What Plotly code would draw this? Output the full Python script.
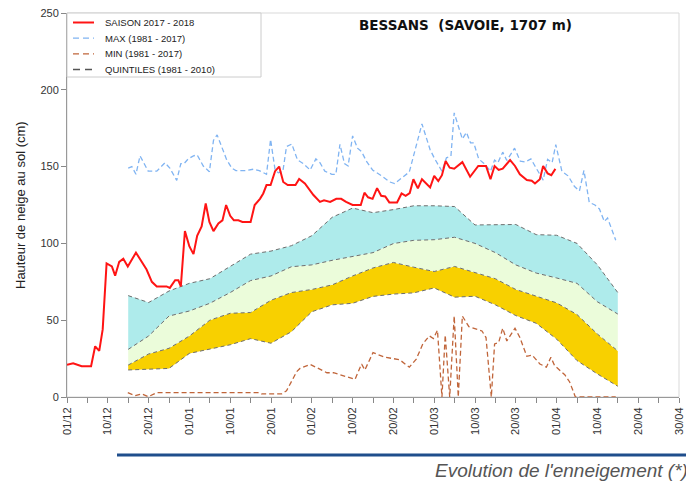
import plotly.graph_objects as go

# X axis: day index from 01/12 (0) to 30/04 (150)
tick_days = list(range(0, 151, 5))
tick_labels = ["01/12", "", "10/12", "", "20/12", "", "01/01", "", "10/01", "", "20/01", "",
               "01/02", "", "10/02", "", "20/02", "", "01/03", "", "10/03", "", "20/03", "",
               "01/04", "", "10/04", "", "20/04", "", "30/04"]

# Season 2017-2018
season_days = [0, 1.5, 3.6, 5.9, 6.9, 7.9, 8.75, 9.7, 11, 11.8, 12.8, 13.8, 14.9, 16.9, 19.5, 20.8,
               22, 24.4, 25.2, 26.5, 27.3, 27.9, 28.9, 30, 31, 31.9, 33, 34, 34.9, 35.9, 37.1, 38.1,
               39, 40, 40.9, 42, 43, 45, 46, 47.3, 48.1, 48.9, 49.9, 51, 52, 53, 54.1, 56, 56.9, 58.3,
               60.4, 62, 63, 64.5, 66, 67.2, 68.4, 70, 72, 72.9, 73.8, 74.9, 76, 77, 78, 79, 80.9,
               82, 83, 84, 84.9, 86, 87, 89, 90, 91, 91.9, 92.8, 93.8, 94.9, 96.9, 98.8, 100.8,
               102.7, 103.8, 104.8, 105.8, 106.8, 108.6, 109.8, 111, 112.7, 113.9, 114.7, 115.9,
               116.7, 117.8, 118.7, 119.7]
season_vals = [21, 22, 20, 20, 33, 30, 44, 87, 85, 79, 88, 90, 85, 94, 83, 75,
               72, 72, 71, 76, 76, 72, 108, 98, 93, 105, 111, 126, 114, 108, 113, 115,
               125, 118, 115, 115, 114, 114, 125, 129, 132.5, 138, 138, 147, 150, 140, 138, 138, 142, 139,
               131.5, 127, 128, 127, 129, 129, 127, 125, 125, 133, 130, 129, 136, 131, 130.6, 126.7, 126.7,
               132.5, 131, 132.8, 141.8, 135.8, 141.8, 136.4, 144, 140.6, 144.4, 153.6, 149.3, 148.6, 152.9, 143.4, 150.4,
               150.4, 141.8, 150.4, 147.8, 148.7, 154.3, 150.4, 145, 141.3, 140.8, 139, 141.8,
               150.4, 145.6, 144.4, 148.5]

# MAX 1981-2017
max_days = [15, 15.9, 16.9, 17.9, 18.7, 19.9, 22, 24, 25.2, 26.9, 27.9, 28.7, 29.7, 31, 31.9, 33.4,
            34.9, 35.9, 36.8, 37.9, 39.1, 40.4, 41.4, 43.9, 45.7, 47.1, 48.9, 49.9, 51, 51.8, 52.9,
            53.8, 55.1, 56.5, 57.9, 59.6, 61, 62, 63.2, 64.9, 65.9, 66.9, 68, 68.9, 70, 71.2, 72.2,
            73.5, 74.9, 77.1, 79.1, 80.3, 81.9, 83.9, 87, 89, 90, 91.9, 93, 94.1, 94.9, 96.9, 97.9,
            98.9, 99.7, 100.9, 102.2, 103.8, 104.8, 105.6, 106.8, 107.8, 109.7, 111.1, 112.3, 113.7,
            114.7, 115.9, 116.7, 117.8, 118.9, 119.8, 121.3, 122.8, 124.4, 125.6, 126.7, 128, 129.4,
            130.5, 131.7, 132.5, 134.5]
max_vals = [149, 150, 145, 157, 153, 147, 147, 152.5, 149, 141, 152, 152, 155, 157, 157.6, 150.4,
            146.7, 167, 170.6, 163, 154.7, 149, 147.4, 147.4, 148.3, 147.4, 145, 167.7, 147.8, 146, 146.7,
            163, 164.7, 154.3, 152, 147.8, 155, 152.5, 147, 145, 145, 164.5, 152, 150.4, 170, 162, 159.7,
            153, 147.8, 144, 140, 139, 142.3, 146.5, 177.8, 161, 155.7, 147, 155.7, 156.8, 185, 168, 172.3,
            165.4, 165.4, 155, 152, 147, 154.3, 152.5, 159.4, 154, 162, 153.6, 153, 155,
            150.4, 144.4, 141.2, 154.7, 152.5, 164.3, 147, 144, 137, 134.2, 147.5, 126.7, 125,
            122.4, 114.3, 116.5, 102]

# MIN 1981-2017
min_days = [14.9, 16.7, 18.3, 19.9, 22, 47.3, 47.7, 52.6, 53.8, 56.3, 57.1, 59.6, 61.6, 63.7, 65.3,
            67.3, 68.9, 70.6, 72.2, 73, 75, 77.9, 81.5, 83.9, 85.6, 87.2, 88.8, 89.8, 90.8, 91.9,
            92.7, 93.8, 94.9, 95.9, 96.9, 98.5, 101.7, 102.7, 104, 104.8, 105.8, 106.8, 107.8, 109.8,
            111, 112.7, 114, 115.9, 117.5, 118.6, 119.5, 122, 123.2, 124.6, 134.5]
min_vals = [2.8, 0.9, 2, 0.2, 2.8, 2.8, 2, 2, 4, 16.5, 18.6, 21.2, 18.6, 15.8, 15.8,
            14.3, 13.2, 11.5, 21.5, 17.6, 28.9, 25.9, 24.3, 19.4, 24.7, 34.5, 39.8, 38.1, 43.5, 0,
            40.3, 0, 52.7, 0, 52.7, 45.8, 43, 38.7, 0, 34.5, 35.5, 44.8, 36.5, 44.8,
            38.7, 26.5, 27.3, 21.5, 19.4, 25.9, 20.5, 14.5, 9.8, 0, 0]

# Quintiles 1981-2010
q_days = list(range(15, 136, 5))
q20 = [17.6, 18, 18.6, 28.4, 31, 34, 38, 35, 42.5, 55.5, 60, 61, 65.5, 67, 67.8, 71, 65, 65.6,
       60, 53, 48, 37.7, 23.7, 15, 7]
q40 = [20.8, 28, 31.7, 39.7, 50, 54.5, 55, 63, 68, 70, 73, 78.8, 84, 87.6, 84.5, 81.7, 85, 81,
       77, 70, 65.7, 61.3, 53.7, 41, 30]
q60 = [31, 39.7, 52.7, 56, 61, 68, 75.8, 78.8, 84.8, 86, 89, 91.4, 94, 99.9, 102, 102.4, 104, 100,
       94, 86, 80.7, 77.5, 74, 62, 54]
q80 = [66, 61.5, 69, 74, 77, 85, 93, 95, 98.5, 105, 117, 123, 120, 122, 124.5, 124.5, 124, 112,
       112, 112.3, 105.7, 105.3, 100, 86, 68]

legend_names = ["SAISON 2017 - 2018", "MAX (1981 - 2017)", "MIN (1981 - 2017)", "QUINTILES (1981 - 2010)"]

RED = "#FF1414"
BLUE = "#80B4F2"
BROWN = "#C0653A"
GREY = "#6e6e6e"

fig = go.Figure()
qline = dict(color=GREY, width=1, dash="4px,3px")
fig.add_trace(go.Scatter(x=q_days, y=q20, mode="lines", line=qline, hoverinfo="skip"))
fig.add_trace(go.Scatter(x=q_days, y=q40, mode="lines", line=qline, fill="tonexty",
                         fillcolor="#F8D000", hoverinfo="skip"))
fig.add_trace(go.Scatter(x=q_days, y=q60, mode="lines", line=qline, fill="tonexty",
                         fillcolor="#EBFCDA", hoverinfo="skip"))
fig.add_trace(go.Scatter(x=q_days, y=q80, mode="lines", line=qline, fill="tonexty",
                         fillcolor="#AEEBEB", hoverinfo="skip"))
fig.add_trace(go.Scatter(x=max_days, y=max_vals, mode="lines", name=legend_names[1],
                         line=dict(color=BLUE, width=1.3, dash="5px,3px")))
fig.add_trace(go.Scatter(x=min_days, y=min_vals, mode="lines", name=legend_names[2],
                         line=dict(color=BROWN, width=1.3, dash="5px,3px")))
fig.add_trace(go.Scatter(x=season_days, y=season_vals, mode="lines", name=legend_names[0],
                         line=dict(color=RED, width=2)))

# The page body has an 8px margin: figure is placed at (8, 8) in the window.
OFF = 8
PL, PT, PW, PH = 67, 13, 612.0, 384.0  # plot area in window px
W, H = 694 - OFF, 484 - OFF
fig.update_layout(
    width=W, height=H,
    margin=dict(l=PL - OFF, r=W - (PL - OFF) - int(PW), t=PT - OFF, b=H - (PT - OFF) - int(PH)),
    plot_bgcolor="white", paper_bgcolor="white",
    font=dict(family="Liberation Sans, Arial, sans-serif", size=11, color="#333333"),
    showlegend=False,
)

fig.update_xaxes(range=[0, 150], tickvals=tick_days, ticktext=tick_labels, tickangle=-90,
                 ticks="outside", ticklen=5, tickcolor="#888888", showline=True,
                 linecolor="#999999", showgrid=False, zeroline=False, automargin=False,
                 ticklabeloverflow="allow", tickfont=dict(size=11, color="#333333"))
fig.update_yaxes(range=[0, 250], tickvals=[0, 50, 100, 150, 200, 250], ticks="outside",
                 ticklen=5, tickcolor="#888888", showline=True, linecolor="#999999",
                 showgrid=False, zeroline=False, automargin=False,
                 ticklabeloverflow="allow", tickfont=dict(size=11, color="#333333"))

# plot frame (light grey top / right)
fig.add_shape(type="rect", xref="paper", yref="paper", x0=0, x1=1, y0=0, y1=1,
              line=dict(color="#d9d9d9", width=1), layer="below")

def px_x(px):
    return (px - PL) / PW

def px_y(py):
    return (PT + PH - py) / PH

# manual legend box
fig.add_shape(type="rect", xref="paper", yref="paper", x0=px_x(67), x1=px_x(261),
              y0=px_y(77), y1=px_y(13), line=dict(color="#cccccc", width=1),
              fillcolor="white", layer="above")
legend_styles = [dict(color=RED, width=2), dict(color=BLUE, width=1.3, dash="6px,4px"),
                 dict(color=BROWN, width=1.3, dash="6px,4px"), dict(color="#555555", width=1.5, dash="7px,5px")]
for i, (name, st) in enumerate(zip(legend_names, legend_styles)):
    yy = 22.5 + i * 15.7
    fig.add_shape(type="line", xref="paper", yref="paper", x0=px_x(73), x1=px_x(94),
                  y0=px_y(yy), y1=px_y(yy), line=st, layer="above")
    fig.add_annotation(text=name, xref="paper", yref="paper", x=px_x(103), y=px_y(yy),
                       xanchor="left", yanchor="middle", showarrow=False,
                       font=dict(size=9.5, color="#222222"))

fig.add_shape(type="line", xref="paper", yref="paper", x0=px_x(117), x1=px_x(694),
              y0=px_y(455), y1=px_y(455), line=dict(color="#1F4E8C", width=3))

fig.add_annotation(text="<b>BESSANS  (SAVOIE, 1707 m)</b>", xref="paper", yref="paper",
                   x=px_x(465), y=px_y(25), showarrow=False, xanchor="center", yanchor="middle",
                   font=dict(family="DejaVu Sans, sans-serif", size=13.5, color="#111111"))
fig.add_annotation(text="Hauteur de neige au sol (cm)", xref="paper", yref="paper",
                   x=px_x(20), y=0.5, showarrow=False, textangle=-90, xanchor="center", yanchor="middle",
                   font=dict(size=13, color="#222222"))
fig.add_annotation(text="<i>Evolution de l'enneigement (*)</i>", xref="paper", yref="paper",
                   x=px_x(690), y=px_y(470), showarrow=False, xanchor="right", yanchor="middle",
                   font=dict(family="Liberation Sans, Arial, sans-serif", size=19, color="#555555"))

fig.write_html("out.html")
